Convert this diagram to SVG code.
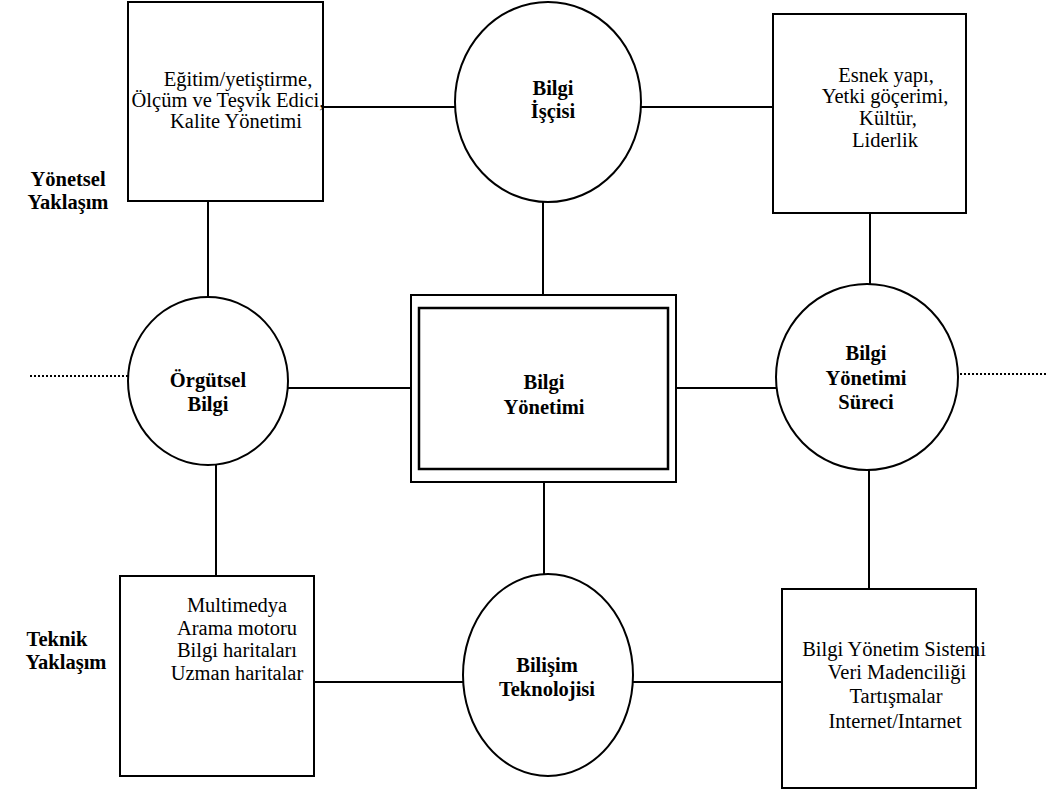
<svg xmlns="http://www.w3.org/2000/svg" width="1056" height="791" viewBox="0 0 1056 791">
<style>
.s{fill:#fff;stroke:#000;stroke-width:2}
.c{stroke:#000;stroke-width:2;fill:none}
.d{stroke:#000;stroke-width:2;stroke-dasharray:2 2;fill:none}
text{font-family:"Liberation Serif","Times New Roman",serif;font-size:20.5px;fill:#000;text-anchor:middle}
.b{font-weight:bold}
</style>
<rect width="1056" height="791" fill="#fff"/>
<g id="connectors">
<line class="c" x1="323" y1="107" x2="455" y2="107"/>
<line class="c" x1="641" y1="107" x2="773" y2="107"/>
<line class="c" x1="543" y1="202" x2="543" y2="295"/>
<line class="c" x1="208" y1="201" x2="208" y2="297"/>
<line class="c" x1="870" y1="213" x2="870" y2="284"/>
<line class="c" x1="288" y1="388" x2="411" y2="388"/>
<line class="c" x1="676" y1="388" x2="776" y2="388"/>
<line class="c" x1="216" y1="464" x2="216" y2="576"/>
<line class="c" x1="544" y1="482" x2="544" y2="575"/>
<line class="c" x1="869" y1="469" x2="869" y2="589"/>
<line class="c" x1="314" y1="682" x2="464" y2="682"/>
<line class="c" x1="631" y1="682" x2="782" y2="682"/>
<line class="d" x1="30" y1="376" x2="128" y2="376"/>
<line class="d" x1="960" y1="374" x2="1048" y2="374"/>
</g>
<g id="label-yonetsel">
<text class="b" x="68" y="186">Yönetsel</text>
<text class="b" x="68" y="209">Yaklaşım</text>
</g>
<g id="label-teknik">
<text class="b" x="57" y="646">Teknik</text>
<text class="b" x="66" y="669">Yaklaşım</text>
</g>
<g id="box-egitim">
<rect class="s" x="128" y="2" width="195" height="199"/>
<text x="238" y="86">Eğitim/yetiştirme,</text>
<text x="228" y="107">Ölçüm ve Teşvik Edici,</text>
<text x="236" y="128">Kalite Yönetimi</text>
</g>
<g id="circle-isci">
<ellipse class="s" cx="548" cy="102" rx="93" ry="100"/>
<text class="b" x="553" y="95">Bilgi</text>
<text class="b" x="553" y="118">İşçisi</text>
</g>
<g id="box-esnek">
<rect class="s" x="773" y="14" width="193" height="199"/>
<text x="886" y="82">Esnek yapı,</text>
<text x="885" y="103">Yetki göçerimi,</text>
<text x="888" y="125">Kültür,</text>
<text x="885" y="147">Liderlik</text>
</g>
<g id="circle-orgutsel">
<ellipse class="s" cx="208" cy="381" rx="80" ry="84"/>
<text class="b" x="208" y="387">Örgütsel</text>
<text class="b" x="208" y="411">Bilgi</text>
</g>
<g id="box-bilgi-yonetimi">
<rect class="s" x="411" y="295" width="265" height="187"/>
<rect class="s" x="419" y="308" width="249" height="161" style="stroke-width:2.5"/>
<text class="b" x="544" y="389">Bilgi</text>
<text class="b" x="544" y="414">Yönetimi</text>
</g>
<g id="circle-surec">
<ellipse class="s" cx="867" cy="377" rx="91" ry="93"/>
<text class="b" x="866" y="360">Bilgi</text>
<text class="b" x="866" y="385">Yönetimi</text>
<text class="b" x="866" y="409">Süreci</text>
</g>
<g id="box-multimedya">
<rect class="s" x="120" y="576" width="194" height="200"/>
<text x="237" y="612">Multimedya</text>
<text x="237" y="635">Arama motoru</text>
<text x="237" y="657">Bilgi haritaları</text>
<text x="237" y="680">Uzman haritalar</text>
</g>
<g id="circle-bilisim">
<ellipse class="s" cx="548" cy="675" rx="85" ry="101"/>
<text class="b" x="547" y="672">Bilişim</text>
<text class="b" x="547" y="696">Teknolojisi</text>
</g>
<g id="box-bys">
<rect class="s" x="782" y="589" width="194" height="199"/>
<text x="894" y="656">Bilgi Yönetim Sistemi</text>
<text x="897" y="679">Veri Madenciliği</text>
<text x="896" y="703">Tartışmalar</text>
<text x="895" y="728">Internet/Intarnet</text>
</g>
</svg>
